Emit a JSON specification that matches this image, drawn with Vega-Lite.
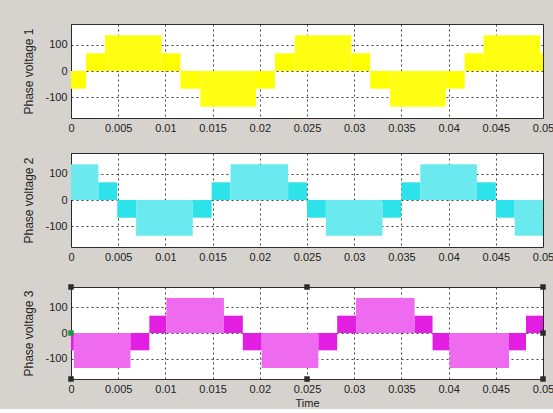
{
  "$schema": "https://vega.github.io/schema/vega-lite/v6.json",
  "background": "#d6d3ce",
  "padding": {"left": 22, "top": 23, "right": 4, "bottom": 0},
  "spacing": 18,
  "resolve": {"scale": {"fill": "independent"}},
  "datasets": {
    "seg": [
      {"p": 1, "t0": 0, "t1": 0.0016, "v": -67, "k": "low"},
      {"p": 1, "t0": 0.0016, "t1": 0.0036, "v": 67, "k": "low"},
      {"p": 1, "t0": 0.0036, "t1": 0.0096, "v": 135, "k": "high"},
      {"p": 1, "t0": 0.0096, "t1": 0.0116, "v": 67, "k": "low"},
      {"p": 1, "t0": 0.0116, "t1": 0.0137, "v": -67, "k": "low"},
      {"p": 1, "t0": 0.0137, "t1": 0.0196, "v": -135, "k": "high"},
      {"p": 1, "t0": 0.0196, "t1": 0.0216, "v": -67, "k": "low"},
      {"p": 1, "t0": 0.0216, "t1": 0.0237, "v": 67, "k": "low"},
      {"p": 1, "t0": 0.0237, "t1": 0.0297, "v": 135, "k": "high"},
      {"p": 1, "t0": 0.0297, "t1": 0.0317, "v": 67, "k": "low"},
      {"p": 1, "t0": 0.0317, "t1": 0.0338, "v": -67, "k": "low"},
      {"p": 1, "t0": 0.0338, "t1": 0.0397, "v": -135, "k": "high"},
      {"p": 1, "t0": 0.0397, "t1": 0.0417, "v": -67, "k": "low"},
      {"p": 1, "t0": 0.0417, "t1": 0.0437, "v": 67, "k": "low"},
      {"p": 1, "t0": 0.0437, "t1": 0.0497, "v": 135, "k": "high"},
      {"p": 1, "t0": 0.0497, "t1": 0.05, "v": 67, "k": "low"},
      {"p": 2, "t0": 0, "t1": 0.0029, "v": 135, "k": "high"},
      {"p": 2, "t0": 0.0029, "t1": 0.0049, "v": 67, "k": "low"},
      {"p": 2, "t0": 0.0049, "t1": 0.0069, "v": -67, "k": "low"},
      {"p": 2, "t0": 0.0069, "t1": 0.0129, "v": -135, "k": "high"},
      {"p": 2, "t0": 0.0129, "t1": 0.0149, "v": -67, "k": "low"},
      {"p": 2, "t0": 0.0149, "t1": 0.0169, "v": 67, "k": "low"},
      {"p": 2, "t0": 0.0169, "t1": 0.023, "v": 135, "k": "high"},
      {"p": 2, "t0": 0.023, "t1": 0.025, "v": 67, "k": "low"},
      {"p": 2, "t0": 0.025, "t1": 0.027, "v": -67, "k": "low"},
      {"p": 2, "t0": 0.027, "t1": 0.033, "v": -135, "k": "high"},
      {"p": 2, "t0": 0.033, "t1": 0.035, "v": -67, "k": "low"},
      {"p": 2, "t0": 0.035, "t1": 0.037, "v": 67, "k": "low"},
      {"p": 2, "t0": 0.037, "t1": 0.043, "v": 135, "k": "high"},
      {"p": 2, "t0": 0.043, "t1": 0.045, "v": 67, "k": "low"},
      {"p": 2, "t0": 0.045, "t1": 0.047, "v": -67, "k": "low"},
      {"p": 2, "t0": 0.047, "t1": 0.05, "v": -135, "k": "high"},
      {"p": 3, "t0": 0, "t1": 0.0003, "v": -67, "k": "low"},
      {"p": 3, "t0": 0.0003, "t1": 0.0063, "v": -135, "k": "high"},
      {"p": 3, "t0": 0.0063, "t1": 0.0083, "v": -67, "k": "low"},
      {"p": 3, "t0": 0.0083, "t1": 0.0101, "v": 67, "k": "low"},
      {"p": 3, "t0": 0.0101, "t1": 0.0162, "v": 135, "k": "high"},
      {"p": 3, "t0": 0.0162, "t1": 0.0182, "v": 67, "k": "low"},
      {"p": 3, "t0": 0.0182, "t1": 0.0202, "v": -67, "k": "low"},
      {"p": 3, "t0": 0.0202, "t1": 0.0262, "v": -135, "k": "high"},
      {"p": 3, "t0": 0.0262, "t1": 0.0282, "v": -67, "k": "low"},
      {"p": 3, "t0": 0.0282, "t1": 0.0302, "v": 67, "k": "low"},
      {"p": 3, "t0": 0.0302, "t1": 0.0364, "v": 135, "k": "high"},
      {"p": 3, "t0": 0.0364, "t1": 0.0383, "v": 67, "k": "low"},
      {"p": 3, "t0": 0.0383, "t1": 0.0401, "v": -67, "k": "low"},
      {"p": 3, "t0": 0.0401, "t1": 0.0464, "v": -135, "k": "high"},
      {"p": 3, "t0": 0.0464, "t1": 0.0482, "v": -67, "k": "low"},
      {"p": 3, "t0": 0.0482, "t1": 0.05, "v": 67, "k": "low"}
    ],
    "handles": [
      {"t": 0, "v": 178, "h": "corner"},
      {"t": 0.025, "v": 178, "h": "corner"},
      {"t": 0.05, "v": 178, "h": "corner"},
      {"t": 0, "v": -178, "h": "corner"},
      {"t": 0.025, "v": -178, "h": "corner"},
      {"t": 0.05, "v": -178, "h": "corner"},
      {"t": 0.05, "v": 0, "h": "corner"},
      {"t": 0, "v": 0, "h": "mid"}
    ]
  },
  "config": {
    "view": {"fill": "white", "stroke": "#2e2e2e", "strokeWidth": 1},
    "axis": {
      "labelFont": "Liberation Sans",
      "labelFontSize": 11,
      "labelColor": "#222222",
      "titleFont": "Liberation Sans",
      "titleFontSize": 12,
      "titleFontWeight": "normal",
      "titleColor": "#222222",
      "grid": true,
      "gridColor": "#222222",
      "gridDash": [2, 3],
      "gridOpacity": 0.85,
      "domain": false,
      "ticks": false,
      "zindex": 1,
      "labelFlush": false
    }
  },
  "vconcat": [
    {
      "width": 472,
      "height": 94,
      "data": {"name": "seg"},
      "transform": [{"filter": "datum.p == 1"}],
      "mark": {"type": "bar"},
      "encoding": {
        "x": {"field": "t0", "type": "quantitative", "scale": {"domain": [0, 0.05], "nice": false, "zero": false}, "axis": {"values": [0, 0.005, 0.01, 0.015, 0.02, 0.025, 0.03, 0.035, 0.04, 0.045, 0.05], "format": "~g", "title": null, "labelPadding": 4}},
        "x2": {"field": "t1"},
        "y": {"field": "v", "type": "quantitative", "scale": {"domain": [-178, 178], "nice": false}, "axis": {"values": [-100, 0, 100], "labelExpr": "'' + datum.value", "title": "Phase  voltage 1", "labelPadding": 4, "titlePadding": 9}},
        "y2": {"datum": 0},
        "fill": {"field": "k", "type": "nominal", "scale": {"domain": ["low", "high"], "range": ["#ffff00", "#ffff14"]}, "legend": null}
      }
    },
    {
      "spacing": 20,
      "resolve": {"scale": {"fill": "independent"}},
      "vconcat": [
        {
          "width": 472,
          "height": 94,
          "data": {"name": "seg"},
          "transform": [{"filter": "datum.p == 2"}],
          "mark": {"type": "bar"},
          "encoding": {
            "x": {"field": "t0", "type": "quantitative", "scale": {"domain": [0, 0.05], "nice": false, "zero": false}, "axis": {"values": [0, 0.005, 0.01, 0.015, 0.02, 0.025, 0.03, 0.035, 0.04, 0.045, 0.05], "format": "~g", "title": null, "labelPadding": 4}},
            "x2": {"field": "t1"},
            "y": {"field": "v", "type": "quantitative", "scale": {"domain": [-178, 178], "nice": false}, "axis": {"values": [-100, 0, 100], "labelExpr": "'' + datum.value", "title": "Phase  voltage 2", "labelPadding": 4, "titlePadding": 9}},
            "y2": {"datum": 0},
            "fill": {"field": "k", "type": "nominal", "scale": {"domain": ["low", "high"], "range": ["#2ee2ea", "#6ae9ef"]}, "legend": null}
          }
        },
        {
          "width": 472,
          "height": 92,
          "resolve": {"scale": {"color": "independent"}},
          "layer": [
            {
              "data": {"name": "seg"},
              "transform": [{"filter": "datum.p == 3"}],
              "mark": {"type": "bar"},
              "encoding": {
                "x": {"field": "t0", "type": "quantitative", "scale": {"domain": [0, 0.05], "nice": false, "zero": false}, "axis": {"values": [0, 0.005, 0.01, 0.015, 0.02, 0.025, 0.03, 0.035, 0.04, 0.045, 0.05], "format": "~g", "title": "Time", "labelPadding": 4, "titlePadding": 3, "titleFontSize": 11}},
                "x2": {"field": "t1"},
                "y": {"field": "v", "type": "quantitative", "scale": {"domain": [-178, 178], "nice": false}, "axis": {"values": [-100, 0, 100], "labelExpr": "'' + datum.value", "title": "Phase  voltage 3", "labelPadding": 4, "titlePadding": 9}},
                "y2": {"datum": 0},
                "fill": {"field": "k", "type": "nominal", "scale": {"domain": ["low", "high"], "range": ["#e21ee2", "#ee6aee"]}, "legend": null}
              }
            },
            {
              "data": {"name": "handles"},
              "mark": {"type": "square", "size": 30, "opacity": 1, "filled": true},
              "encoding": {
                "x": {"field": "t", "type": "quantitative"},
                "y": {"field": "v", "type": "quantitative"},
                "color": {"field": "h", "type": "nominal", "scale": {"domain": ["corner", "mid"], "range": ["#2a2a2a", "#1f9a3a"]}, "legend": null}
              }
            }
          ]
        }
      ]
    }
  ]
}
